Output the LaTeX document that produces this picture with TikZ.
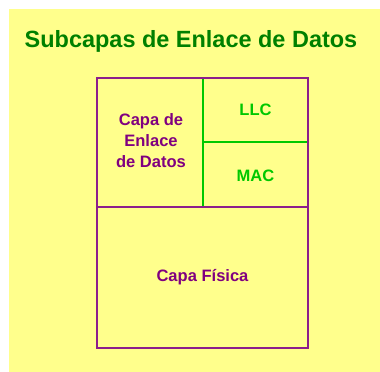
\documentclass[tikz,border=0pt]{standalone}
\usepackage{fontspec}
\setmainfont{Liberation Sans}
\definecolor{bgyellow}{RGB}{255,255,140}
\definecolor{titlegreen}{RGB}{0,128,0}
\definecolor{lightgreen}{RGB}{0,200,0}
\definecolor{txtpurple}{RGB}{128,0,128}
\definecolor{linepurple}{RGB}{140,30,140}
\begin{document}
\begin{tikzpicture}[x=0.75pt,y=-0.75pt,
  purpletext/.style={text=txtpurple,font=\fontsize{12.4}{15.8}\selectfont\bfseries,align=center,inner sep=0pt},
  greentext/.style={text=lightgreen,font=\fontsize{12.4}{15}\selectfont\bfseries,inner sep=0pt},
  titletext/.style={text=titlegreen,font=\fontsize{17.6}{20}\selectfont\bfseries,inner sep=0pt},
  purpleline/.style={draw=linepurple,line width=1.5pt},
  greenline/.style={draw=lightgreen,line width=1.5pt}]
\useasboundingbox (0,0) rectangle (380,372);
\fill[bgyellow] (9,9) rectangle (380,372);
\node[titletext] (title) at (191,41) {Subcapas de Enlace de Datos};
% green subdivisions
\draw[greenline] (203,78) -- (203,207);
\draw[greenline] (203,142) -- (308,142);
% purple frame
\draw[purpleline] (97,78) rectangle (308,348);
\draw[purpleline] (97,207) -- (308,207);
\node[purpletext] (enlace) at (151,141) {Capa de\\Enlace\\de Datos};
\node[greentext] (llc) at (255.5,110) {LLC};
\node[greentext] (mac) at (255.5,176) {MAC};
\node[purpletext] (fisica) at (202.5,277) {Capa Física};
\end{tikzpicture}
\end{document}
